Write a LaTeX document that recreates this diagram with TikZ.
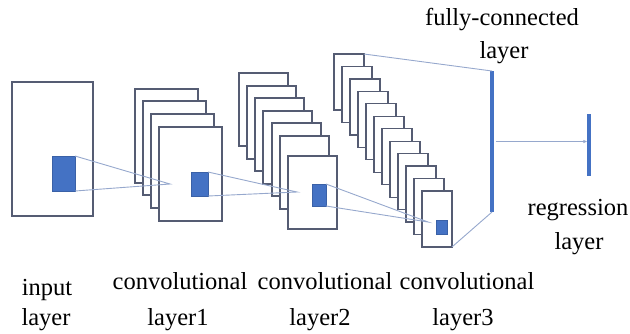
\documentclass[tikz,border=0pt]{standalone}
\usepackage{fontspec}
\setmainfont{Liberation Serif}
\newfontfamily\lblfont{Liberation Serif}
\usetikzlibrary{arrows.meta}

\definecolor{framecol}{RGB}{85, 92, 115}
\definecolor{patchcol}{RGB}{68, 114, 196}
\definecolor{linkcol}{RGB}{150, 168, 205}

\tikzset{
  fmap/.style={draw=framecol, fill=white, line width=1.2pt, anchor=north west, inner sep=0pt, outer sep=0pt},
  patch/.style={fill=patchcol, draw=patchcol!85!black, line width=0.4pt, anchor=north west, inner sep=0pt, outer sep=0pt},
  link/.style={draw=linkcol, line width=0.9pt},
  bar/.style={fill=patchcol, inner sep=0pt, outer sep=0pt},
  lbl/.style={font=\lblfont\fontsize{24.5}{29}\selectfont, anchor=base, inner sep=0pt},
}

\begin{document}
\begin{tikzpicture}[x=1pt, y=-1pt]
  \useasboundingbox (0,0) rectangle (630,333);
  % input layer
  \node[fmap, minimum width=81pt, minimum height=134pt] (inp) at (12,82) {};
  \node[patch, minimum width=23pt, minimum height=35pt] (pIn) at (52,156) {};
  % convolutional layers
  \foreach \x/\y [count=\i] in {135/89, 143/101, 151/114, 159/127}
    \node[fmap, minimum width=63pt, minimum height=94pt] (cA\i) at (\x,\y) {};
  \foreach \x/\y [count=\i] in {239/73, 247/86, 255/98, 263/111, 272/123, 280/136, 288/156}
    \node[fmap, minimum width=49pt, minimum height=73pt] (cB\i) at (\x,\y) {};
  \foreach \i in {1,...,12}
    \node[fmap, minimum width=30pt, minimum height=56pt] (cC\i) at (334+8*\i-8, 54+12.45*\i-12.45) {};
  \node[patch, minimum width=17pt, minimum height=24pt] (pA) at (191,172) {};
  \node[patch, minimum width=14pt, minimum height=22pt] (pB) at (312,184) {};
  \node[patch, minimum width=11pt, minimum height=14pt] (pC) at (436,220) {};
  \coordinate (fA) at (170,184);
  \coordinate (fB) at (297,192);
  \coordinate (fC) at (428,222);
  \draw[link] (pIn.north east) -- (fA) -- (pIn.south east);
  \draw[link] (pA.north east) -- (fB) -- (pA.south east);
  \draw[link] (pB.north east) -- (fC) -- (pB.south east);
  % fully-connected and regression layers
  \node[bar, minimum width=3.8pt, minimum height=141pt] (fc) at (492,141.5) {};
  \node[bar, minimum width=3.2pt, minimum height=62pt] (reg) at (589,145) {};
  \draw[link] (cC1.north east) -- (fc.north);
  \draw[link] (cC12.south east) -- (fc.south);
  \draw[link, -{Latex[length=4pt, width=3.5pt]}] (fc.east) ++(2,0) coordinate (fcOut) -- (fcOut -| reg.west);
  % labels
  \node[lbl] (inTop) at (47,295) {input};
  \node[lbl] (inBot) at (46,325) {layer};
  \node[lbl] (cATop) at (180,289) {convolutional};
  \node[lbl] (cABot) at (178,325) {layer1};
  \node[lbl] (cBTop) at (325,289) {convolutional};
  \node[lbl] (cBBot) at (320,325) {layer2};
  \node[lbl] (cCTop) at (467,289) {convolutional};
  \node[lbl] (cCBot) at (463,325) {layer3};
  \node[lbl] (fcTop) at (502,25) {fully-connected};
  \node[lbl] (fcBot) at (504,58) {layer};
  \node[lbl] (regTop) at (578,215) {regression};
  \node[lbl] (regBot) at (579,249) {layer};
\end{tikzpicture}
\end{document}
